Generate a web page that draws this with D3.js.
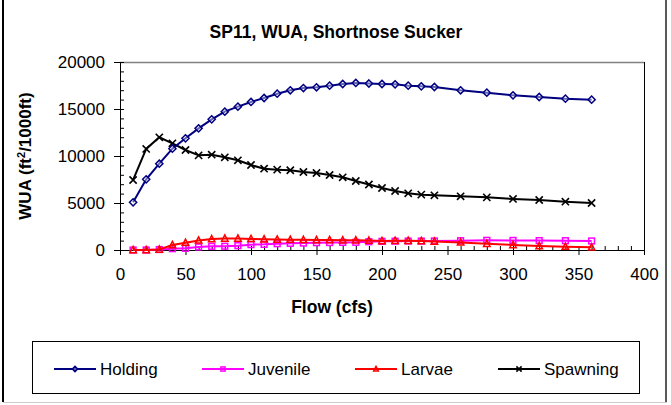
<!DOCTYPE html>
<html>
<head>
<meta charset="utf-8">
<script src="https://cdn.jsdelivr.net/npm/d3@7"></script>
<style>
  body { margin: 0; background: #fff; }
  svg { display: block; font-family: "Liberation Sans", Arial, sans-serif; }
</style>
</head>
<body>
<svg id="canvas"></svg>
<script>
var width = 671,
	height = 405;

// flow values (cfs)
var flow = [10, 20, 30, 40, 50, 60, 70, 80, 90, 100, 110, 120, 130, 140, 150, 160, 170, 180, 190,
	200, 210, 220, 230, 240, 260, 280, 300, 320, 340, 360];

var holding = [5070, 7520, 9180, 10780, 11880, 12940, 13900, 14720, 15250, 15750, 16170, 16630, 16990,
	17230, 17310, 17480, 17660, 17770, 17710, 17660, 17620, 17480, 17410, 17340, 16990, 16740, 16450,
	16280, 16100, 15990];

var juvenile = [0, 0, 50, 140, 180, 320, 390, 400, 460, 570, 600, 670, 710, 740, 780, 790, 810, 820,
	880, 920, 940, 950, 950, 960, 990, 1030, 1020, 1000, 990, 960];

var larvae = [0, 0, 60, 530, 780, 1020, 1160, 1230, 1230, 1180, 1150, 1120, 1100, 1080, 1070, 1060,
	1040, 1030, 1000, 960, 980, 980, 960, 900, 810, 670, 530, 425, 355, 285];

var spawning = [7450, 10750, 11990, 11350, 10640, 10070, 10140, 9860, 9540, 9040, 8650, 8550, 8480,
	8300, 8190, 7980, 7730, 7340, 6970, 6600, 6280, 6030, 5890, 5820, 5710, 5600, 5430, 5320, 5140, 5000];

var seriesNames = ["Holding", "Juvenile", "Larvae", "Spawning"];
var seriesColors = ["#000080", "#ff00ff", "#ff0000", "#000000"];
var seriesValues = [holding, juvenile, larvae, spawning];

var xTicks = [0, 50, 100, 150, 200, 250, 300, 350, 400];
var yTicks = [0, 5000, 10000, 15000, 20000];

var svg = d3.select("#canvas")
	.attr("width", width)
	.attr("height", height);

// chart frame
svg.append("line").attr("x1", 3).attr("x2", 3).attr("y1", 0).attr("y2", 402)
	.attr("stroke", "#000").attr("stroke-width", 2);
svg.append("line").attr("x1", 666).attr("x2", 666).attr("y1", 0).attr("y2", 402)
	.attr("stroke", "#222").attr("stroke-width", 1.5);
svg.append("line").attr("x1", 3).attr("x2", 667).attr("y1", 402.5).attr("y2", 402.5)
	.attr("stroke", "#ccc").attr("stroke-width", 1);

var plotLeft = 120, plotRight = 644, plotTop = 62, plotBottom = 250;

var x = d3.scaleLinear().domain([0, 400]).range([plotLeft, plotRight]);
var y = d3.scaleLinear().domain([0, 20000]).range([plotBottom, plotTop]);

// plot area border
svg.append("line").attr("x1", plotLeft).attr("x2", plotRight).attr("y1", plotTop + 0.5).attr("y2", plotTop + 0.5)
	.attr("stroke", "#808080").attr("stroke-width", 1.5);
svg.append("line").attr("x1", plotRight + 0.5).attr("x2", plotRight + 0.5).attr("y1", plotTop).attr("y2", plotBottom)
	.attr("stroke", "#000").attr("stroke-width", 1);

// minor ticks (inside)
svg.append("g")
	.attr("transform", "translate(0," + plotBottom + ")")
	.call(d3.axisBottom(x).tickValues(d3.range(0, 401, 10)).tickSize(-4).tickFormat(""))
	.call(function(g){ g.select(".domain").remove(); });
svg.append("g")
	.attr("transform", "translate(" + plotLeft + ",0)")
	.call(d3.axisLeft(y).tickValues(d3.range(0, 20001, 1000)).tickSize(-4).tickFormat(""))
	.call(function(g){ g.select(".domain").remove(); });

// major axes
svg.append("g")
	.attr("transform", "translate(0," + plotBottom + ")")
	.call(d3.axisBottom(x).tickValues(xTicks).tickSizeInner(5).tickSizeOuter(0).tickPadding(13)
		.tickFormat(d3.format("d")));
svg.append("g")
	.attr("transform", "translate(" + plotLeft + ",0)")
	.call(d3.axisLeft(y).tickValues(yTicks).tickSizeInner(6).tickSizeOuter(0).tickPadding(9)
		.tickFormat(d3.format("d")));

svg.selectAll(".tick text")
	.attr("font-size", 17)
	.attr("font-family", "Liberation Sans, Arial, sans-serif")
	.attr("fill", "#000");
svg.selectAll(".domain, .tick line").attr("stroke", "#000");

// titles
svg.append("text")
	.attr("x", 336).attr("y", 38)
	.attr("text-anchor", "middle")
	.attr("font-size", 17.5).attr("font-weight", "bold")
	.text("SP11, WUA, Shortnose Sucker");

svg.append("text")
	.attr("x", 332).attr("y", 313)
	.attr("text-anchor", "middle")
	.attr("font-size", 17.5).attr("font-weight", "bold")
	.text("Flow (cfs)");

var yTitle = svg.append("text")
	.attr("transform", "translate(31,156) rotate(-90)")
	.attr("text-anchor", "middle")
	.attr("font-size", 17).attr("font-weight", "bold");
yTitle.append("tspan").text("WUA (ft");
yTitle.append("tspan").attr("font-size", 11).attr("dy", -6).text("2");
yTitle.append("tspan").attr("dy", 6).text("/1000ft)");

// markers
function drawMarker(g, name, color, s) {
	if (name === "Holding") {
		g.append("path")
			.attr("d", "M0," + (-s) + "L" + s + ",0L0," + s + "L" + (-s) + ",0Z")
			.attr("fill", "#fff").attr("fill-opacity", 0.4)
			.attr("stroke", color).attr("stroke-width", 1.5);
	} else if (name === "Juvenile") {
		g.append("rect")
			.attr("x", -s * 0.8).attr("y", -s * 0.8)
			.attr("width", s * 1.6).attr("height", s * 1.6)
			.attr("fill", "none")
			.attr("stroke", color).attr("stroke-width", 1.5);
	} else if (name === "Larvae") {
		g.append("path")
			.attr("d", "M0," + (-s) + "L" + (s * 0.9) + "," + (s * 0.75) + "L" + (-s * 0.9) + "," + (s * 0.75) + "Z")
			.attr("fill", "none")
			.attr("stroke", color).attr("stroke-width", 1.5);
	} else {
		g.append("path")
			.attr("d", "M" + (-s) + "," + (-s) + "L" + s + "," + s + "M" + (-s) + "," + s + "L" + s + "," + (-s))
			.attr("stroke", color).attr("stroke-width", 1.6);
	}
}

var line = d3.line()
	.x(function(d){ return x(d[0]); })
	.y(function(d){ return y(d[1]); });

// juvenile first, then larvae, spawning, holding on top
var drawOrder = [1, 2, 3, 0];
drawOrder.forEach(function(i){
	var pts = flow.map(function(f, k){ return [f, seriesValues[i][k]]; });
	var g = svg.append("g");
	g.append("path")
		.datum(pts)
		.attr("d", line)
		.attr("fill", "none")
		.attr("stroke", seriesColors[i])
		.attr("stroke-width", 2);
	g.selectAll("g.m")
		.data(pts)
		.enter()
		.append("g")
		.attr("transform", function(d){ return "translate(" + x(d[0]) + "," + y(d[1]) + ")"; })
		.each(function(){ drawMarker(d3.select(this), seriesNames[i], seriesColors[i], 3.6); });
});

// legend
svg.append("rect")
	.attr("x", 32.5).attr("y", 341.5)
	.attr("width", 607).attr("height", 52)
	.attr("fill", "#fff").attr("stroke", "#000").attr("stroke-width", 1);

var legendX = [54, 202, 355, 498];
seriesNames.forEach(function(name, i){
	var g = svg.append("g").attr("transform", "translate(" + legendX[i] + ",369)");
	g.append("line").attr("x1", 0).attr("x2", 42)
		.attr("stroke", seriesColors[i]).attr("stroke-width", 2);
	var m = g.append("g").attr("transform", "translate(21,0)");
	drawMarker(m, name, seriesColors[i], 2.6);
	g.append("text")
		.attr("x", 46).attr("y", 6)
		.attr("font-size", 17)
		.text(name);
});
</script>
</body>
</html>
